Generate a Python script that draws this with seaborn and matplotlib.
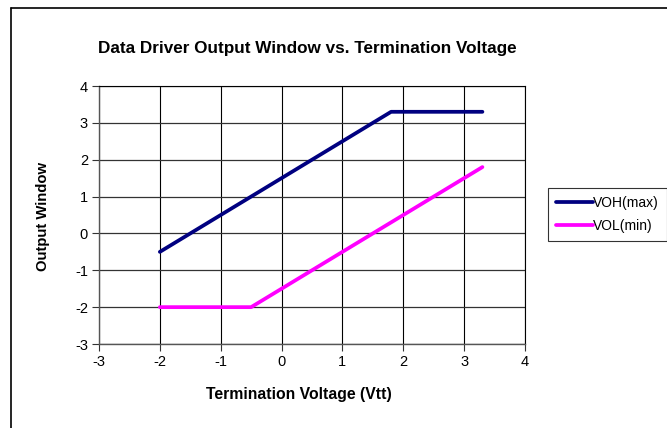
import numpy as np
import pandas as pd
import matplotlib
matplotlib.use("Agg")
import matplotlib.pyplot as plt
import seaborn as sns
from matplotlib.lines import Line2D

# Data (kink points)
voh_x = [-2.0, 1.8, 3.3]
voh_y = [-0.5, 3.3, 3.3]
vol_x = [-2.0, -0.5, 3.3]
vol_y = [-2.0, -2.0, 1.8]
series_names = ["VOH(max)", "VOL(min)"]
x_ticks = [-3, -2, -1, 0, 1, 2, 3, 4]
y_ticks = [-3, -2, -1, 0, 1, 2, 3, 4]

df = pd.concat([
    pd.DataFrame({"Vtt": voh_x, "Output": voh_y, "Series": series_names[0]}),
    pd.DataFrame({"Vtt": vol_x, "Output": vol_y, "Series": series_names[1]}),
], ignore_index=True)

sns.set_theme(style="white")
plt.rcParams["font.family"] = ["Liberation Sans", "DejaVu Sans"]
plt.rcParams["text.color"] = "#000000"
plt.rcParams["axes.labelcolor"] = "#000000"

fig = plt.figure(figsize=(6.67, 4.28), dpi=100)
ax = fig.add_axes([99/667, 1-344/428, (525-99)/667, (344-86)/428])

palette = {series_names[0]: "#000080", series_names[1]: "#FF00FF"}
sns.lineplot(data=df, x="Vtt", y="Output", hue="Series", palette=palette,
             linewidth=2.7, ax=ax, sort=False, legend=True)

ax.set_xlim(-3, 4)
ax.set_ylim(-3, 4)
ax.set_xticks(x_ticks)
ax.set_yticks(y_ticks)
ax.set_xticklabels([str(t) for t in x_ticks], fontsize=10.5)
ax.set_yticklabels([str(t) for t in y_ticks], fontsize=10.5)
ax.xaxis.grid(True, color="#000000", linewidth=0.8)
ax.yaxis.grid(True, color="#333333", linewidth=0.9)
ax.set_axisbelow(True)
for s in ax.spines.values():
    s.set_color("#555555")
    s.set_linewidth(1.0)
ax.spines["top"].set_color("#000000")
ax.spines["right"].set_color("#000000")
ax.spines["top"].set_linewidth(0.8)
ax.spines["right"].set_linewidth(0.8)
ax.tick_params(axis="both", direction="out", length=5, width=0.8,
               color="#333333", labelcolor="#000000", pad=3,
               bottom=True, left=True)

ax.set_xlabel("Termination Voltage (Vtt)", fontsize=11.3, fontweight="bold")
ax.xaxis.set_label_coords((299-99)/426, -(395-344)/258)
ax.xaxis.label.set_va("center")
ax.set_ylabel("Output Window", fontsize=10.7, fontweight="bold")
ax.yaxis.set_label_coords(-(99-43)/426, (344-216)/258)
ax.yaxis.label.set_va("center")

fig.text(307/667, 1-48/428, "Data Driver Output Window vs. Termination Voltage",
         fontsize=12.3, fontweight="bold", ha="center", va="center")

leg = ax.legend(loc="upper left", bbox_to_anchor=(548/667, 1-188/428),
                bbox_transform=fig.transFigure, frameon=True, fancybox=False,
                fontsize=10, handlelength=2.7, handletextpad=0.0,
                borderpad=0.55, labelspacing=0.7, borderaxespad=0)
leg.get_frame().set_edgecolor("#000000")
leg.get_frame().set_linewidth(0.8)
for t in leg.get_texts():
    t.set_color("#000000")

# Outer chart border (only left and top visible)
fig.add_artist(Line2D([11/667, 11/667], [0, 1-8/428], transform=fig.transFigure,
                      color="#000000", linewidth=1.2))
fig.add_artist(Line2D([11/667, 1], [1-8/428, 1-8/428], transform=fig.transFigure,
                      color="#000000", linewidth=1.2))

fig.savefig("out.png", dpi=100)
